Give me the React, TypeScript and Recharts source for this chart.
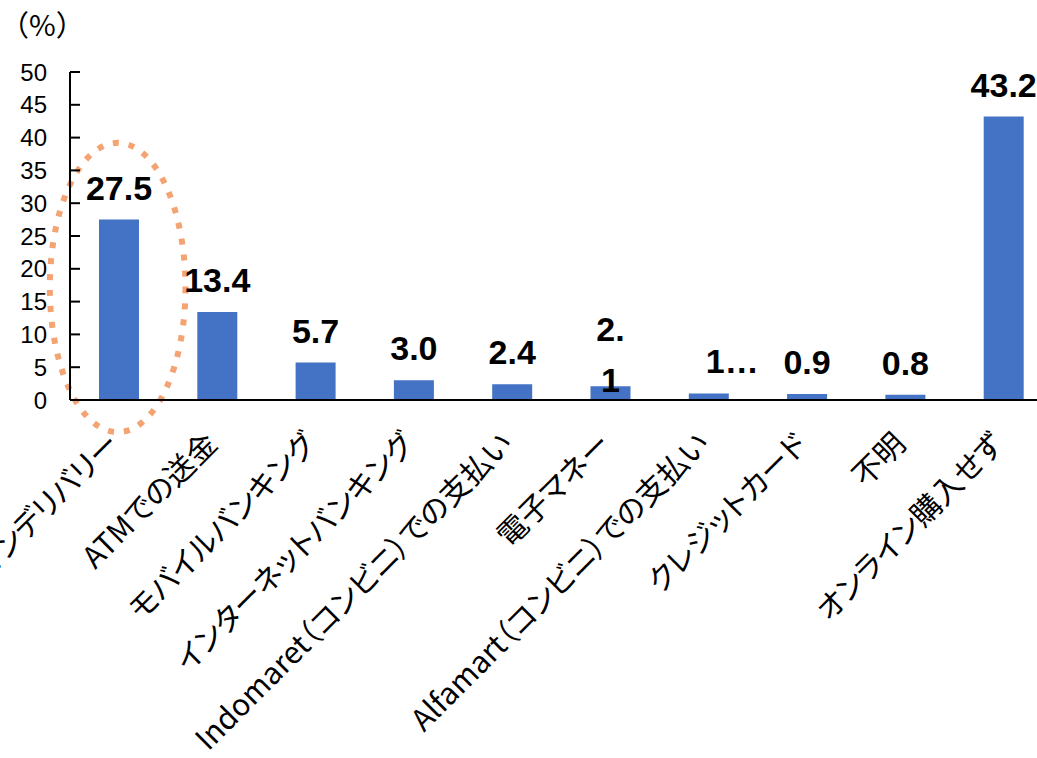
import React from 'react';
import { BarChart, Bar, XAxis, YAxis, LabelList, ReferenceArea, Label } from 'recharts';

const categories = [
  'キャッシュオンデリバリー',
  'ATMでの送金',
  'モバイルバンキング',
  'インターネットバンキング',
  'Indomaret（コンビニ）での支払い',
  '電子マネー',
  'Alfamart（コンビニ）での支払い',
  'クレジットカード',
  '不明',
  'オンライン購入せず',
];
const values = [27.5, 13.4, 5.7, 3.0, 2.4, 2.1, 1.0, 0.9, 0.8, 43.2];
const valueLabels = ['27.5', '13.4', '5.7', '3.0', '2.4', '2.\n1', '1…', '0.9', '0.8', '43.2'];
const yTicks = [0, 5, 10, 15, 20, 25, 30, 35, 40, 45, 50];
const unitLabel = '（%）';
const highlightRange = [-4.9, 39.2];

const data = categories.map((name, i) => ({ name, value: values[i], label: valueLabels[i] }));

const XTick = (props: any) => {
  const { x, y, payload } = props;
  return (
    <g transform={`translate(${x - 6},${y + 38})`}>
      <text
        transform="rotate(-45)"
        textAnchor="end"
        dy="0.37em"
        fontSize={30}
        fontFamily="'Noto Sans CJK JP', sans-serif"
        fill="#000"
        style={{ fontFeatureSettings: '"palt"' }}
      >
        {payload.value}
      </text>
    </g>
  );
};

const YTick = (props: any) => {
  const { x, y, payload } = props;
  return (
    <g>
      <line x1={x + 23} x2={x + 33} y1={y} y2={y} stroke="#000" strokeWidth={2} />
      <text
        x={x}
        y={y}
        dy="0.36em"
        textAnchor="end"
        fontSize={24}
        fontFamily="'Liberation Sans', Arial, sans-serif"
        fill="#000"
      >
        {payload.value}
      </text>
    </g>
  );
};

const BarLabel = (props: any) => {
  const { x, y, width, value } = props;
  const cx = x + width / 2;
  const text = String(value);
  const lines = text.split('\n');
  const truncated = text.endsWith('…');
  return (
    <text
      fontSize={34}
      fontWeight="bold"
      fontFamily="'Liberation Sans', Arial, sans-serif"
      fill="#000"
      textAnchor={truncated ? 'start' : 'middle'}
    >
      {lines.map((l, i) => (
        <tspan key={i} x={truncated ? cx - 3 : cx} y={y - 20 + (i - (lines.length - 1) / 2) * 51}>
          {l}
        </tspan>
      ))}
    </text>
  );
};

const UnitLabel = (props: any) => {
  const { viewBox } = props;
  return (
    <text
      x={viewBox.x}
      y={viewBox.y - 36}
      fontSize={29}
      fontFamily="'Noto Sans CJK JP', sans-serif"
      fill="#000"
    >
      {unitLabel}
    </text>
  );
};

const Ellipse = (p: any) => (
  <ellipse
    cx={p.x + p.width / 2 - 1.5}
    cy={p.y + p.height / 2}
    rx={p.width * 0.69}
    ry={p.height / 2}
    fill="none"
    stroke="#F4A373"
    strokeWidth={6}
    strokeDasharray="6 10"
  />
);

export default function App() {
  return (
    <div style={{ position: 'fixed', left: 0, top: 0, width: 1037, height: 758, overflow: 'hidden', background: '#fff' }}>
      <BarChart
        width={1060}
        height={758}
        data={data}
        margin={{ top: 72, right: 7, bottom: 0, left: 0 }}
      >
        <XAxis
          dataKey="name"
          height={358}
          interval={0}
          tickLine={false}
          tickSize={0}
          tickMargin={0}
          axisLine={{ stroke: '#000', strokeWidth: 2 }}
          tick={<XTick />}
        />
        <YAxis
          type="number"
          domain={[0, 50]}
          ticks={yTicks}
          interval={0}
          width={70}
          tickLine={false}
          tickSize={0}
          tickMargin={23}
          axisLine={{ stroke: '#000', strokeWidth: 2 }}
          tick={<YTick />}
        >
          <Label content={<UnitLabel />} />
        </YAxis>
        <Bar dataKey="value" fill="#4472C4" barSize={40} isAnimationActive={false}>
          <LabelList dataKey="label" content={<BarLabel />} />
        </Bar>
        <ReferenceArea
          x1={categories[0]}
          x2={categories[0]}
          y1={highlightRange[0]}
          y2={highlightRange[1]}
          ifOverflow="visible"
          shape={<Ellipse />}
        />
      </BarChart>
    </div>
  );
}
